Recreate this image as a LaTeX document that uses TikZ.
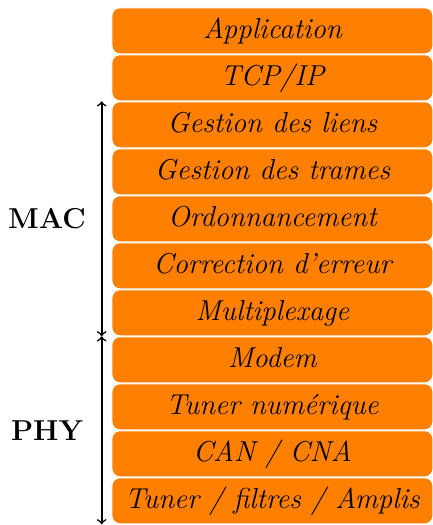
\documentclass[tikz,border=0pt]{standalone}
\usepackage{tikz}
\usetikzlibrary{positioning}

\begin{document}
\begin{tikzpicture}[
    layer/.style={draw=white, line width=0.5pt, fill=orange, rounded corners=4pt,
      minimum width=160.5pt, minimum height=23pt, text height=11pt, text depth=3pt,
      font=\Large\itshape},
    side/.style={font=\Large\bfseries},
    node distance=0pt]
  \useasboundingbox (0,0) rectangle (216.5pt,-262.5pt);
  % Protocol stack
  \node[layer] (app) at (136.2pt,-15.4pt) {Application};
  \node[layer, below=of app] (tcp) {TCP/IP};
  \node[layer, below=of tcp] (liens) {Gestion des liens};
  \node[layer, below=of liens] (trames) {Gestion des trames};
  \node[layer, below=of trames] (ordo) {Ordonnancement};
  \node[layer, below=of ordo] (corr) {Correction d'erreur};
  \node[layer, below=of corr] (mux) {Multiplexage};
  \node[layer, below=of mux] (modem) {Modem};
  \node[layer, below=of modem] (tuner) {Tuner numérique};
  \node[layer, below=of tuner] (can) {CAN / CNA};
  \node[layer, below=of can] (rf) {Tuner / filtres / Amplis};
  % Side arrows
  \coordinate (axis) at (50.85pt,0);
  \draw[thick, <->] (axis |- liens.north) -- (axis |- mux.south);
  \draw[thick, <->] (axis |- modem.north) -- (axis |- rf.south);
  % Sublayer names
  \coordinate (lbl) at (23.5pt,0);
  \node[side] (mac) at (lbl |- ordo) {MAC};
  \node[side] (phy) at (lbl |- tuner.south) {PHY};
\end{tikzpicture}
\end{document}
